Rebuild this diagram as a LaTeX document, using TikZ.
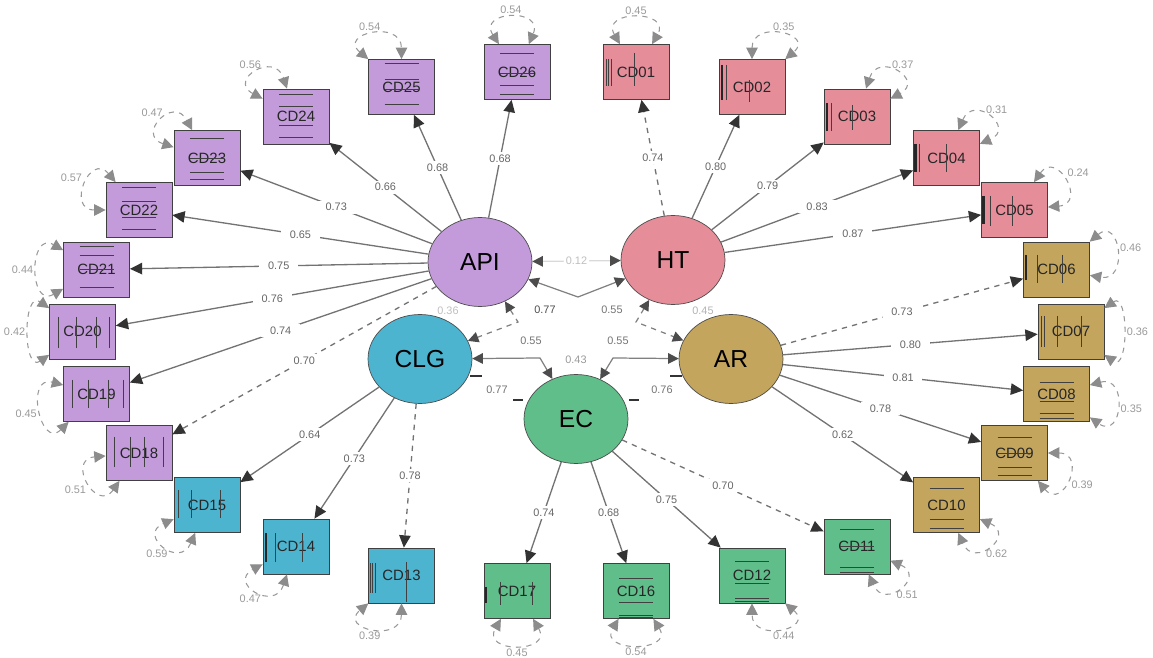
\documentclass[tikz,border=0pt]{standalone}
\usepackage{fontspec}
\setmainfont{Liberation Sans}
\usetikzlibrary{positioning,calc,arrows.meta,shapes.geometric}

\definecolor{apicol}{HTML}{C39BDB}
\definecolor{htcol}{HTML}{E68D9A}
\definecolor{clgcol}{HTML}{4DB4D0}
\definecolor{arcol}{HTML}{C3A55E}
\definecolor{eccol}{HTML}{60BE8A}

% residual loop: [reach] box, direction, spread, value
\newcommand{\resid}[5][0.8cm]{%
  \pgfmathtruncatemacro\ra{#3+#4}
  \pgfmathtruncatemacro\rb{#3-#4}
  \pgfmathtruncatemacro\rl{mod(#3+180,360)}
  \draw[res] (#2.\ra) to[out=\ra, in=\rb, distance=#1] node[reslbl, anchor=\rl] {#5} (#2.\rb);
}
% stray lines inside the boxes
\newcommand{\hbars}[2]{\foreach \dy in {#2} {\draw[deco] ($(#1)+(-17,\dy)$) -- ++(34,0);}}
\newcommand{\vbars}[5][deco]{\foreach \dx in {#3} {\draw[#1] ($(#2)+(\dx,#4)$) -- ($(#2)+(\dx,#5)$);}}

\begin{document}
\begin{tikzpicture}[x=0.02cm, y=0.02cm,
    lat/.style={ellipse, draw=black!70, minimum width=2.08cm, minimum height=1.78cm, inner sep=0pt, font=\fontsize{14}{15}\selectfont},
    obs/.style={rectangle, draw=black!75, minimum width=1.32cm, minimum height=1.10cm, inner sep=0pt, text=black!85, font=\fontsize{8.5}{9}\selectfont},
    load/.style={draw=black!55, line width=0.75pt, -{Triangle[length=7pt,width=6.5pt,color=black!80]}},
    cov/.style={draw=black!50, line width=0.7pt, {Triangle[length=6pt,width=6pt,color=black!70]}-{Triangle[length=6pt,width=6pt,color=black!70]}},
    res/.style={draw=black!40, dashed, line width=0.6pt, {Triangle[length=6.5pt,width=6.5pt,color=black!45]}-{Triangle[length=6.5pt,width=6.5pt,color=black!45]}},
    lbl/.style={fill=white, inner xsep=5pt, inner ysep=1.5pt, text=black!60, font=\fontsize{6.2}{7}\selectfont},
    clbl/.style={inner sep=1pt, text=black!55, font=\fontsize{6.2}{7}\selectfont},
    reslbl/.style={inner sep=2pt, text=black!40, font=\fontsize{6.2}{7}\selectfont},
    deco/.style={draw=black!75, line width=0.5pt},
    thickbar/.style={draw=black!85, line width=1.6pt},
    tick/.style={draw=black!80, line width=0.9pt}]

\useasboundingbox (0,0) rectangle (1153,-658);

% latent variables
\node[lat, fill=apicol] (API) at (480,-262) {API};
\node[lat, fill=htcol]  (HT)  at (673,-260) {HT};
\node[lat, fill=clgcol] (CLG) at (420,-359) {CLG};
\node[lat, fill=arcol]  (AR)  at (731,-359) {AR};
\node[lat, fill=eccol]  (EC)  at (576,-419) {EC};

% indicators, API
\node[obs, fill=apicol] (CD26) at (517,-72) {CD26};
\node[obs, fill=apicol] (CD25) at (401.5,-87) {CD25};
\node[obs, fill=apicol] (CD24) at (296,-116.5) {CD24};
\node[obs, fill=apicol] (CD23) at (207,-158) {CD23};
\node[obs, fill=apicol] (CD22) at (139,-210) {CD22};
\node[obs, fill=apicol] (CD21) at (96.5,-269.5) {CD21};
\node[obs, fill=apicol] (CD20) at (82.5,-331.5) {CD20};
\node[obs, fill=apicol] (CD19) at (96.5,-394) {CD19};
\node[obs, fill=apicol] (CD18) at (139,-453) {CD18};
% indicators, HT
\node[obs, fill=htcol] (CD01) at (636,-72) {CD01};
\node[obs, fill=htcol] (CD02) at (752,-87) {CD02};
\node[obs, fill=htcol] (CD03) at (857,-116.5) {CD03};
\node[obs, fill=htcol] (CD04) at (946.5,-158) {CD04};
\node[obs, fill=htcol] (CD05) at (1014.5,-210) {CD05};
% indicators, AR
\node[obs, fill=arcol] (CD06) at (1056.5,-269.5) {CD06};
\node[obs, fill=arcol] (CD07) at (1071,-331.5) {CD07};
\node[obs, fill=arcol] (CD08) at (1056.5,-394) {CD08};
\node[obs, fill=arcol] (CD09) at (1014.5,-453) {CD09};
\node[obs, fill=arcol] (CD10) at (946.5,-505) {CD10};
% indicators, EC
\node[obs, fill=eccol] (CD11) at (857,-546.5) {CD11};
\node[obs, fill=eccol] (CD12) at (752,-575.5) {CD12};
\node[obs, fill=eccol] (CD16) at (636,-591) {CD16};
\node[obs, fill=eccol] (CD17) at (517,-591) {CD17};
% indicators, CLG
\node[obs, fill=clgcol] (CD13) at (401.5,-575.5) {CD13};
\node[obs, fill=clgcol] (CD14) at (296,-546.5) {CD14};
\node[obs, fill=clgcol] (CD15) at (207,-505) {CD15};

% loadings
\path[load]
    (API) edge node[lbl] {0.68} (CD26)
          edge node[lbl] {0.68} (CD25)
          edge node[lbl] {0.66} (CD24)
          edge node[lbl] {0.73} (CD23)
          edge node[lbl] {0.65} (CD22)
          edge node[lbl] {0.75} (CD21)
          edge node[lbl] {0.76} (CD20)
          edge node[lbl] {0.74} (CD19)
          edge[dashed] node[lbl] {0.70} (CD18)
    (HT)  edge[dashed] node[lbl] {0.74} (CD01)
          edge node[lbl] {0.80} (CD02)
          edge node[lbl] {0.79} (CD03)
          edge node[lbl] {0.83} (CD04)
          edge node[lbl] {0.87} (CD05)
    (AR)  edge[dashed] node[lbl] {0.73} (CD06)
          edge node[lbl] {0.80} (CD07)
          edge node[lbl] {0.81} (CD08)
          edge node[lbl] {0.78} (CD09)
          edge node[lbl] {0.62} (CD10)
    (EC)  edge[dashed] node[lbl] {0.70} (CD11)
          edge node[lbl] {0.75} (CD12)
          edge node[lbl] {0.68} (CD16)
          edge node[lbl] {0.74} (CD17)
    (CLG) edge[dashed] node[lbl] {0.78} (CD13)
          edge node[lbl] {0.73} (CD14)
          edge node[lbl] {0.64} (CD15);

% covariances between the factors
\draw[cov, draw=black!15] (API) -- node[clbl, fill=white, text=black!25] {0.12} (HT);
\draw[cov] (API) -- (578,-297) -- (HT);
\draw[cov, dashed] (API) -- (518,-322) -- (CLG);
\draw[cov, dashed] (HT) -- (636,-322) -- (AR);
\draw[cov] (CLG) -- (540,-358) -- (EC);
\draw[cov] (AR) -- (613,-358) -- (EC);
\node[clbl, text=black!70] (c1) at (545,-310) {0.77};
\node[clbl] (c2) at (612,-310) {0.55};
\node[clbl, text=black!25] (c3) at (448,-311) {0.36};
\node[clbl, text=black!30] (c4) at (703,-311) {0.45};
\node[clbl] (c5) at (531,-341) {0.55};
\node[clbl] (c6) at (618,-341) {0.55};
\node[clbl, text=black!40] (c7) at (576,-360) {0.43};
\node[clbl] (c8) at (497,-390) {0.77};
\node[clbl] (c9) at (662,-390) {0.76};
\draw[tick] (470,-376) -- (482,-376);
\draw[tick] (513,-400) -- (523,-400);
\draw[tick] (629,-400) -- (639,-400);
\draw[tick] (670,-376) -- (682,-376);

% residual variances
\resid{CD26}{95}{28}{0.54}
\resid{CD25}{115}{25}{0.54}
\resid{CD24}{130}{22}{0.56}
\resid{CD23}{140}{22}{0.47}
\resid{CD22}{155}{25}{0.57}
\resid{CD21}{180}{30}{0.44}
\resid[0.65cm]{CD20}{180}{35}{0.42}
\resid{CD19}{195}{30}{0.45}
\resid{CD18}{210}{25}{0.51}
\resid{CD15}{225}{22}{0.59}
\resid{CD14}{230}{22}{0.47}
\resid{CD13}{245}{25}{0.39}
\resid{CD17}{270}{30}{0.45}
\resid{CD16}{270}{32}{0.54}
\resid{CD12}{295}{25}{0.44}
\resid{CD11}{315}{22}{0.51}
\resid{CD10}{315}{22}{0.62}
\resid{CD09}{335}{25}{0.39}
\resid{CD08}{350}{25}{0.35}
\resid[0.6cm]{CD07}{0}{35}{0.36}
\resid{CD06}{15}{25}{0.46}
\resid{CD05}{30}{25}{0.24}
\resid{CD04}{45}{22}{0.31}
\resid{CD03}{50}{22}{0.37}
\resid{CD02}{65}{25}{0.35}
\resid{CD01}{90}{30}{0.45}

% lines through the boxes
\hbars{CD24}{22,10,-9,-21}
\hbars{CD23}{20,0,-14,-21}
\hbars{CD22}{23,9,-7,-19}
\hbars{CD21}{23.5,14.5,0,-17.5}
\hbars{CD25}{24,8,-2,-17}
\hbars{CD26}{19,-1,-13,-22}
\hbars{CD08}{12,-7,-19,-24}
\hbars{CD09}{16,0,-14,-22}
\hbars{CD10}{17,-14,-23}
\hbars{CD11}{17.5,0,-20.5,-25.5}
\hbars{CD12}{14.5,-7.5,-22.5,-25.5}
\hbars{CD16}{13,-11,-24,-26}
\vbars{CD01}{-30,-27.5,-25}{13}{-14}
\vbars{CD01}{-2}{19}{-14}
\vbars[thickbar]{CD02}{-30}{22}{-13}
\vbars{CD02}{-26}{22}{-13}
\vbars{CD02}{-3}{7}{-15}
\vbars[thickbar]{CD03}{-30}{13}{-15}
\vbars{CD03}{-26}{13}{-15}
\vbars{CD03}{-5}{11}{-14}
\vbars[thickbar]{CD04}{-31}{14}{-14}
\vbars{CD04}{-27.5,-0.5}{14}{-14}
\vbars[thickbar]{CD05}{-31}{14}{-14}
\vbars{CD05}{-24.5,-2.5}{14}{-16}
\vbars[thickbar]{CD06}{-30.5}{14.5}{-10.5}
\vbars{CD06}{-19.5,5.5}{14.5}{-13.5}
\vbars{CD07}{-30,-27,-14,10}{15}{-16}
\vbars[thickbar]{CD17}{-31}{4}{-12}
\vbars{CD17}{-17,15}{9}{-14}
\vbars{CD13}{-31.5,-29,-26.5}{12.5}{-17.5}
\vbars{CD13}{4.5}{13.5}{-26.5}
\vbars[thickbar]{CD14}{-30}{13.5}{-15.5}
\vbars{CD14}{-21,6}{13.5}{-15.5}
\vbars{CD15}{-29,-16,13}{15}{-13}
\vbars{CD18}{-25,-9,5,24}{16}{-14}
\vbars{CD19}{-24.5,-8.5,11.5,26.5}{14}{-14}
\vbars{CD20}{-24.5,-6.5,13.5,26.5}{14.5}{-16.5}
\end{tikzpicture}
\end{document}
